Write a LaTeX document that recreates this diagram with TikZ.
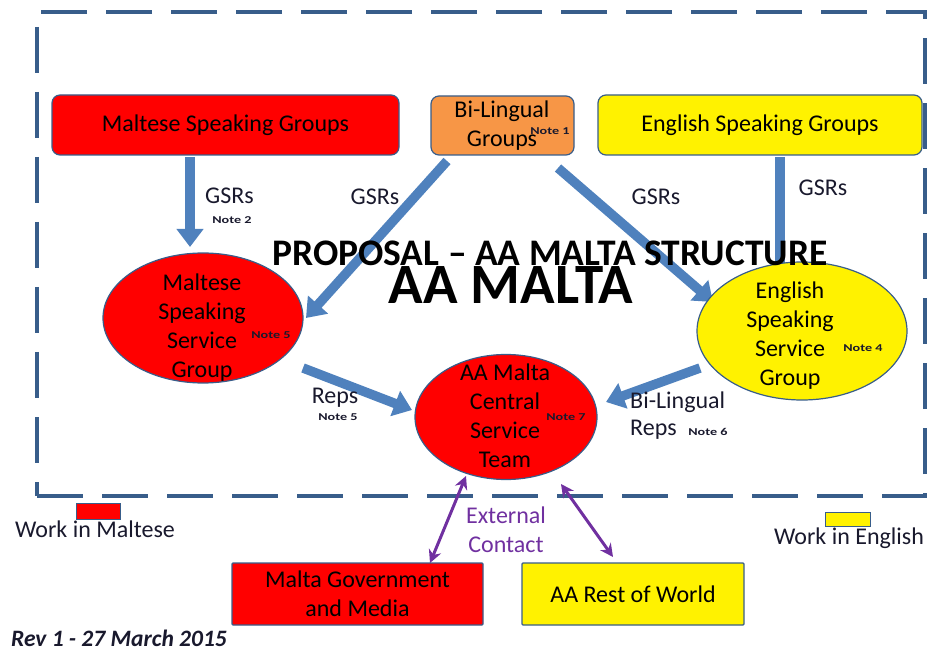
\documentclass[tikz,border=0pt]{standalone}
\usepackage{fontspec}
\setmainfont{Carlito}
\newfontfamily\notefont{Carlito}[FakeStretch=1.35]
\usetikzlibrary{arrows.meta,shapes.geometric}
\definecolor{bordblue}{RGB}{56,93,138}
\definecolor{arrblue}{RGB}{79,129,189}
\definecolor{orng}{RGB}{247,150,70}
\definecolor{purp}{RGB}{112,48,160}
\definecolor{txt}{RGB}{25,25,45}
\begin{document}
\begin{tikzpicture}[x=1pt,y=-1pt,
 box/.style={draw=bordblue, line width=1.2pt, rounded corners=8pt, inner sep=0, align=center, font=\fontsize{24}{29}\selectfont},
 sqbox/.style={box, rounded corners=1pt},
 ell/.style={ellipse, draw=bordblue, line width=1.2pt, inner sep=0},
 lbl/.style={font=\fontsize{24}{29}\selectfont, text=txt, inner sep=0, align=center},
 note/.style={font=\notefont\fontsize{10.5}{12}\selectfont\bfseries, inner sep=0, text=txt},
 blk/.style={line width=9.5pt, draw=arrblue, -{Triangle[length=18pt,width=26pt]}},
 dbl/.style={line width=3pt, draw=purp, {Stealth[length=13pt,width=13pt]}-{Stealth[length=13pt,width=13pt]}},
]
\useasboundingbox (0,0) rectangle (932,652);
% frame
\node[draw=bordblue, line width=4.5pt, dash pattern=on 46pt off 19pt, minimum width=888pt, minimum height=484pt, inner sep=0] (frame) at (481,254) {};

% arrow end points
\coordinate (a1s) at (190,157);
\coordinate (a1e) at (190,247);
\coordinate (a2s) at (447,161);
\coordinate (a2e) at (306,318);
\coordinate (a3s) at (558,168);
\coordinate (a3e) at (713,302);
\coordinate (a4s) at (780,157);
\coordinate (a4e) at (780,285);
\coordinate (a5s) at (303,368);
\coordinate (a5e) at (412,410);
\coordinate (a6s) at (700,368);
\coordinate (a6e) at (606,402);
\coordinate (p1s) at (466,476);
\coordinate (p1e) at (430,563);
\coordinate (p2s) at (561,484);
\coordinate (p2e) at (613,557);

\draw[blk] (a1s) -- (a1e);
\draw[blk] (a2s) -- (a2e);
\draw[blk] (a3s) -- (a3e);
\draw[blk] (a4s) -- (a4e);
\draw[blk] (a5s) -- (a5e);
\draw[blk] (a6s) -- (a6e);

% top boxes
\node[box, fill=red, minimum width=347pt, minimum height=60pt] (msg) at (225.5,125) {Maltese Speaking Groups};
\node[box, fill=orng, minimum width=143pt, minimum height=59pt] (blg) at (502.5,125.5) {};
\node[lbl, text=black] (blgt) at (502,126) {Bi-Lingual\\Groups};
\node[note] (n1) at (550,131) {Note 1};
\node[box, fill=yellow, minimum width=324pt, minimum height=60pt] (esg) at (760,125) {English Speaking Groups};

% ellipses
\node[ell, fill=red, minimum width=200pt, minimum height=130pt] (mssg) at (203,318) {};
\node[lbl, text=black] (mssgt) at (202,328) {Maltese\\Speaking\\Service\\Group};
\node[note] (n5a) at (271,335) {Note 5};

\node[ell, fill=yellow, minimum width=210pt, minimum height=138pt] (essg) at (802,331) {};
\node[lbl, text=black] (essgt) at (790,336) {English\\Speaking\\Service\\Group};
\node[note] (n4) at (863,348) {Note 4};

\node[ell, fill=red, minimum width=182pt, minimum height=125pt] (cst) at (506,417) {};
\node[lbl, text=black] (cstt) at (505,416) {AA Malta\\Central\\Service\\Team};
\node[note] (n7) at (566,417) {Note 7};

% arrow labels
\node[lbl, anchor=west] (g1) at (205,196) {GSRs};
\node[note] (n2) at (232,220) {Note 2};
\node[lbl] (g2) at (375,197) {GSRs};
\node[lbl] (g3) at (656,197) {GSRs};
\node[lbl] (g4) at (823,188) {GSRs};
\node[lbl] (reps) at (335,398) {Reps};
\node[note] (n5b) at (338,417) {Note 5};
\node[lbl, anchor=west] (blr1) at (630,402) {Bi-Lingual};
\node[lbl, anchor=west] (blr2) at (630,430) {Reps};
\node[note] (n6) at (708,432) {Note 6};

% title
\node[font=\fontsize{37.5}{40}\selectfont\bfseries, anchor=base, inner sep=0] (title) at (550,266) {PROPOSAL – AA MALTA STRUCTURE};
\node[font=\fontsize{57}{60}\selectfont\bfseries, anchor=base, inner sep=0] (aam) at (511,304) {AA MALTA};

% external
\draw[dbl] (p1s) -- (p1e);
\draw[dbl] (p2s) -- (p2e);
\node[lbl, text=purp] (ext) at (506,530) {External\\Contact};

\node[sqbox, fill=red, minimum width=251pt, minimum height=62pt] (gov) at (357.5,594) {Malta Government\\and Media};
\node[sqbox, fill=yellow, minimum width=222pt, minimum height=62pt] (row) at (633,594) {AA Rest of World};

% legend
\node[draw=bordblue, line width=1pt, fill=red, minimum width=44pt, minimum height=16pt, inner sep=0] (lm) at (98,511) {};
\node[lbl] (lmt) at (95,529) {Work in Maltese};
\node[draw=bordblue, line width=1pt, fill=yellow, minimum width=45pt, minimum height=14pt, inner sep=0] (le) at (847.5,519) {};
\node[lbl] (let) at (849,538) {Work in English};

\node[font=\fontsize{23.5}{26}\selectfont\bfseries\itshape, anchor=west, inner sep=0, text=txt] (rev) at (11,638) {Rev 1 - 27 March 2015};
\end{tikzpicture}
\end{document}
